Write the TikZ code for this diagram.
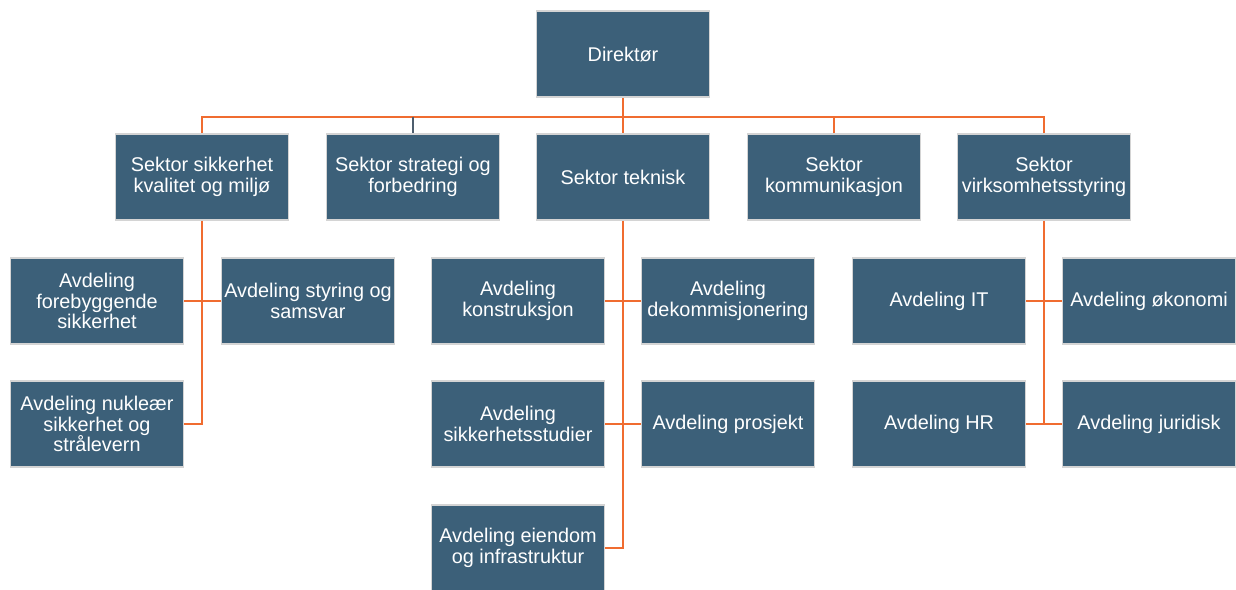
\documentclass[tikz,border=0pt]{standalone}
\usepackage{fontspec}
\setmainfont{Liberation Sans}
\usepackage{xcolor}
\usepackage{tikz}
\usetikzlibrary{positioning,calc}

\definecolor{boxblue}{RGB}{60,96,121}
\definecolor{boxedge}{RGB}{212,212,212}
\definecolor{linkorange}{RGB}{240,108,48}
\definecolor{linkslate}{RGB}{78,94,110}

\tikzset{
  unit/.style={rectangle, fill=boxblue, draw=boxedge, line width=0.9pt,
    minimum width=3.46cm, minimum height=1.72cm, inner sep=1pt,
    text=white, align=center, font=\fontsize{11.3}{11.8}\selectfont},
  link/.style={draw=linkorange, line width=1.1pt},
}

\begin{document}
\begin{tikzpicture}[x=0.02cm, y=-0.02cm]
  \useasboundingbox (0,0) rectangle (1236,589);

  % Top
  \node[unit] (dir) at (623,54) {Direktør};

  % Sectors
  \node[unit] (s1) at (202,177) {Sektor sikkerhet\\kvalitet og miljø};
  \node[unit] (s2) at (413,177) {Sektor strategi og\\forbedring};
  \node[unit] (s3) at (623,177) {Sektor teknisk};
  \node[unit] (s4) at (834,177) {Sektor\\kommunikasjon};
  \node[unit] (s5) at (1044,177) {Sektor\\virksomhetsstyring};

  % Departments under sikkerhet
  \node[unit] (a11) at (97,301) {Avdeling\\forebyggende\\sikkerhet};
  \node[unit] (a12) at (308,301) {Avdeling styring og\\samsvar};
  \node[unit] (a13) at (97,424) {Avdeling nukleær\\sikkerhet og\\strålevern};

  % Departments under teknisk
  \node[unit] (a31) at (518,301) {Avdeling\\konstruksjon};
  \node[unit] (a32) at (728,301) {Avdeling\\dekommisjonering};
  \node[unit] (a33) at (518,424) {Avdeling\\sikkerhetsstudier};
  \node[unit] (a34) at (728,424) {Avdeling prosjekt};
  \node[unit] (a35) at (518,548) {Avdeling eiendom\\og infrastruktur};

  % Departments under virksomhetsstyring
  \node[unit] (a51) at (939,301) {Avdeling IT};
  \node[unit] (a52) at (1149,301) {Avdeling økonomi};
  \node[unit] (a53) at (939,424) {Avdeling HR};
  \node[unit] (a54) at (1149,424) {Avdeling juridisk};

  % Director to sectors
  \draw[link] (dir.south) -- ++(0,19) coordinate (bus);
  \draw[link] (bus) -| (s1.north);
  \draw[link] (bus) -| (s5.north);
  \draw[link] (bus) -- (s3.north);
  \draw[link] (bus) -| (s4.north);
  \draw[line width=1.1pt, draw=linkslate] (bus -| s2.north) -- (s2.north);

  % Sector to departments
  \draw[link] (s1.south) |- (a13.east);
  \draw[link] (a11.east) -- (a12.west);

  \draw[link] (s3.south) |- (a35.east);
  \draw[link] (a31.east) -- (a32.west);
  \draw[link] (a33.east) -- (a34.west);

  \draw[link] (s5.south) |- (a53.east);
  \draw[link] (a51.east) -- (a52.west);
  \draw[link] (a53.east) -- (a54.west);
\end{tikzpicture}
\end{document}
